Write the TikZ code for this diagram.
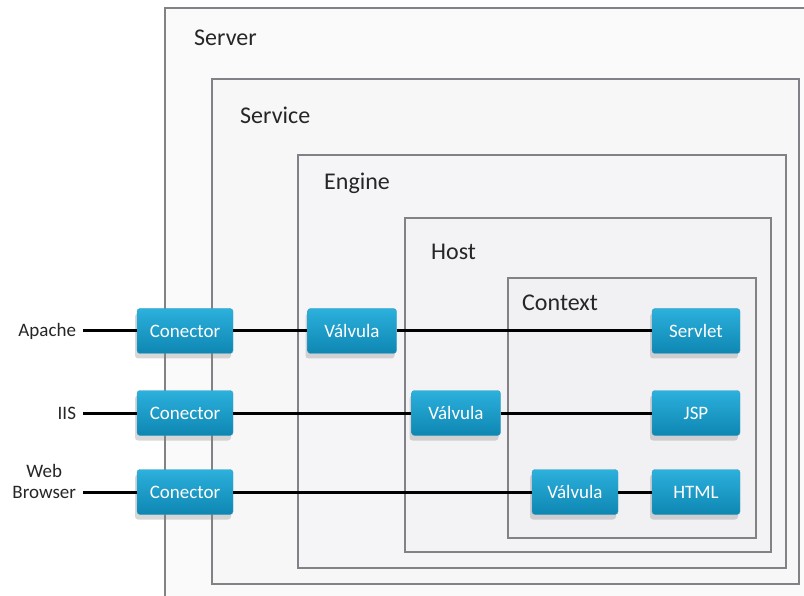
\documentclass[tikz,border=0pt]{standalone}
\usepackage{fontspec}
\setmainfont{Carlito}
\usetikzlibrary{shadows}

\definecolor{boxtop}{RGB}{44,176,220}
\definecolor{boxbottom}{RGB}{14,134,178}
\definecolor{frameline}{RGB}{130,130,134}
\definecolor{shade1}{RGB}{250,250,250}
\definecolor{shade2}{RGB}{247,247,248}
\definecolor{shade3}{RGB}{245,245,247}
\definecolor{shade4}{RGB}{243,243,245}
\definecolor{shade5}{RGB}{241,241,244}

\tikzstyle{layer} = [draw=frameline,line width=1.4pt]
\tikzstyle{layerlabel} = [anchor=west,inner sep=0pt,text=black!85,font=\fontsize{24}{28}\selectfont]
\tikzstyle{component} = [shape=rectangle,rounded corners=3pt,top color=boxtop,bottom color=boxbottom,draw=boxbottom!80!white,text=white,minimum height=45pt,inner sep=0pt,font=\fontsize{19}{22}\selectfont,drop shadow={shadow xshift=-2pt,shadow yshift=-5pt,opacity=0.3}]
\tikzstyle{client} = [anchor=east,align=center,inner sep=0pt,outer xsep=7pt,text=black!85,font=\fontsize{19}{21}\selectfont]
\tikzstyle{wire} = [draw,line width=3pt,-]

\begin{document}
\begin{tikzpicture}[x=1pt,y=-1pt]
      \useasboundingbox (0,0) rectangle (804,596);
      \fill[white] (0,0) rectangle (804,596);

      %% nested containers
      \foreach \name/\xa/\ya/\xb/\yb/\shade/\lx/\ly/\lbl in {
        server/165/8/812/610/shade1/194/38/Server,
        service/212/79/799/584/shade2/240/115/Service,
        engine/298/155/786/568/shade3/324/183/Engine,
        host/405/218/771/552/shade4/431/252/Host,
        context/508/278/756/538/shade5/522/303/Context}
      {
        \path[layer,fill=\shade] (\xa,\ya) rectangle (\xb,\yb);
        \node (\name) at (\lx,\ly) [layerlabel] {\lbl};
      }

      %% components
      \foreach \nodename/\x/\y/\w/\lbl in {
        con1/185/331/96/Conector, con2/185/413/96/Conector, con3/185/492/96/Conector,
        val1/352/331/89/Válvula, val2/456/413/89/Válvula, val3/575/492/86/Válvula,
        servlet/696/331/88/Servlet, jsp/696/413/88/JSP, html/696/492/88/HTML}
      {
        \node (\nodename) at (\x,\y) [component,minimum width=\w pt] {\lbl};
      }

      %% clients
      \node (apache) at (83,331) [client] {Apache};
      \node (iis) at (83,413) [client] {IIS};
      \node (web) at (83,481) [client] {Web\\Browser};

      %% edges or lines
      \path
      \foreach \startnode/\endnode in {apache/con1, con1/val1, val1/servlet,
        iis/con2, con2/val2, val2/jsp, con3/val3, val3/html}
      {
        (\startnode) edge[wire] (\endnode)
      };
      \draw[wire] (web.east |- con3) -- (con3);
\end{tikzpicture}
\end{document}
